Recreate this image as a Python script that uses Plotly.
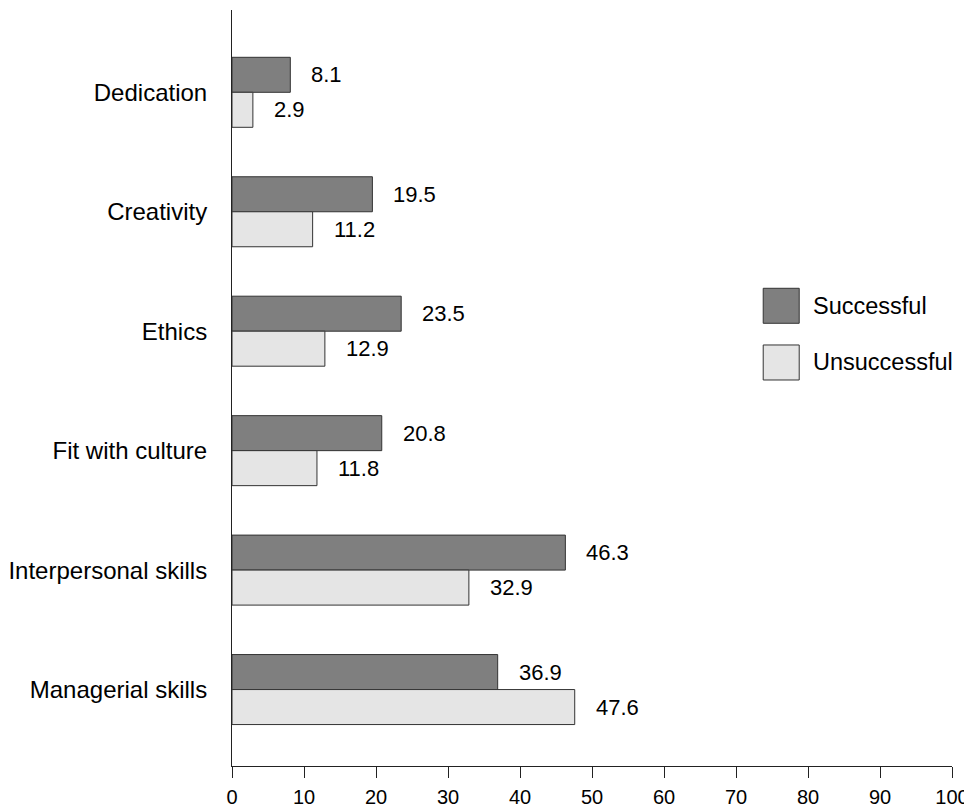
import plotly.graph_objects as go

categories = ["Dedication", "Creativity", "Ethics", "Fit with culture",
              "Interpersonal skills", "Managerial skills"]
successful = [8.1, 19.5, 23.5, 20.8, 46.3, 36.9]
unsuccessful = [2.9, 11.2, 12.9, 11.8, 32.9, 47.6]
series_names = ["Successful", "Unsuccessful"]
x_ticks = [0, 10, 20, 30, 40, 50, 60, 70, 80, 90, 100]

FONT = "Liberation Sans, Arial, Helvetica, sans-serif"
colors = ["#7f7f7f", "#e5e5e5"]
outline = "#333333"

fig = go.Figure()
for name, vals, col in zip(series_names, [successful, unsuccessful], colors):
    fig.add_trace(go.Bar(
        y=categories, x=vals, name=name, orientation="h",
        marker=dict(color=col, line=dict(color=outline, width=1)),
        showlegend=False, hoverinfo="x+y",
    ))

annotations = []
for vals, ysh in zip([successful, unsuccessful], [17.5, -17.5]):
    for cat, v in zip(categories, vals):
        annotations.append(dict(
            x=v, y=cat, xref="x", yref="y", text=f"{v:.1f}",
            showarrow=False, xanchor="left", yanchor="middle",
            xshift=19, yshift=ysh,
            font=dict(family=FONT, size=22, color="#000000"),
        ))

# manual legend with large swatches
shapes = []
leg_boxes = [(0.5856, 0.6319), (0.5106, 0.5569)]
for (y0, y1), col, name in zip(leg_boxes, colors, series_names):
    shapes.append(dict(type="rect", xref="paper", yref="paper",
                       x0=0.7378, x1=0.7878, y0=y0, y1=y1,
                       fillcolor=col, line=dict(color=outline, width=1)))
    annotations.append(dict(x=0.8045, y=(y0 + y1) / 2, xref="paper", yref="paper",
                            text=name, showarrow=False, xanchor="left",
                            yanchor="middle",
                            font=dict(family=FONT, size=23.5, color="#000000")))

fig.update_layout(
    width=964, height=802,
    margin=dict(l=224, r=20, t=2, b=44, autoexpand=False),
    paper_bgcolor="white", plot_bgcolor="white",
    barmode="group", bargap=0.414, bargroupgap=0,
    annotations=annotations, shapes=shapes,
    showlegend=False,
    font=dict(family=FONT, color="#000000"),
)
fig.update_xaxes(
    range=[0, 100], tickvals=x_ticks, ticktext=[str(t) for t in x_ticks],
    showgrid=False, zeroline=False, showline=True, linecolor="#222222",
    linewidth=1, ticks="outside", ticklen=11, tickcolor="#222222",
    tickfont=dict(family=FONT, size=20, color="#000000"),
    ticklabelstandoff=2, fixedrange=True,
)
fig.update_yaxes(
    categoryorder="array", categoryarray=categories,
    range=[5.64, -0.689],
    showgrid=False, zeroline=False, showline=True, linecolor="#222222",
    linewidth=1, ticks="", ticklabelstandoff=19,
    tickfont=dict(family=FONT, size=24, color="#000000"),
    fixedrange=True,
)

fig.write_html("out.html")
